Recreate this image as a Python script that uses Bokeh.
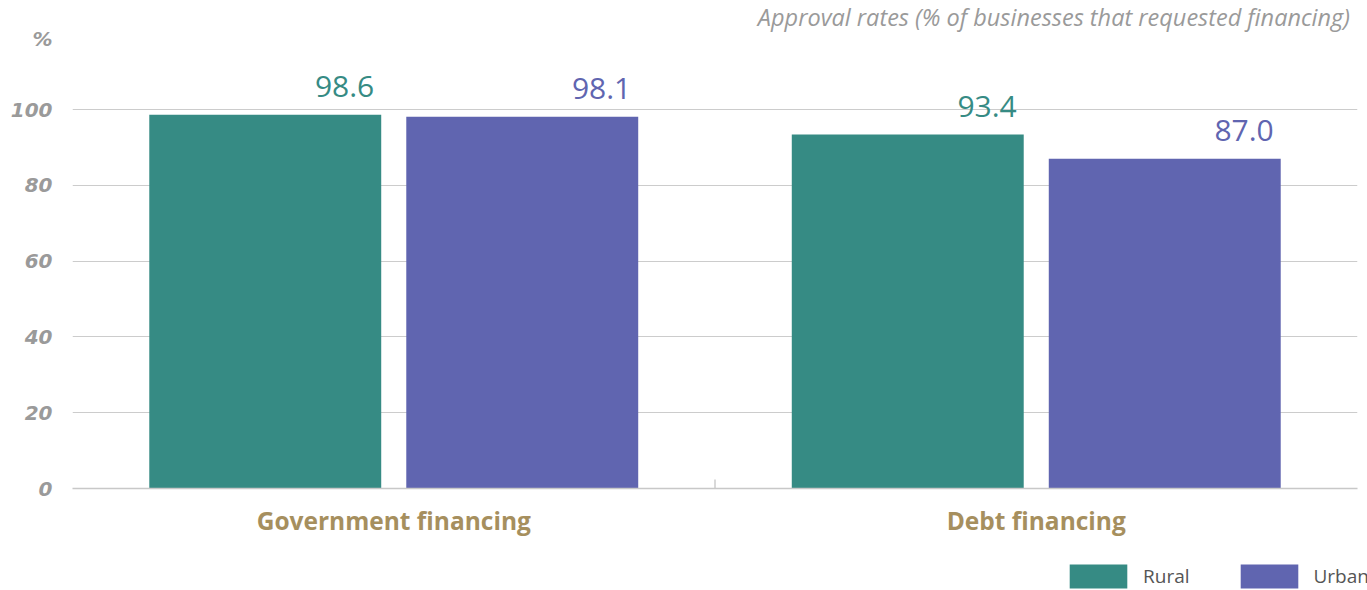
from bokeh.plotting import figure
from bokeh.layouts import column
from bokeh.models import ColumnDataSource, FactorRange, Range1d, FixedTicker, Label, Legend, LegendItem
from bokeh.transform import dodge
from bokeh.embed import file_html
from bokeh.resources import INLINE

categories = ["Government financing", "Debt financing"]
rural = [98.6, 93.4]
urban = [98.1, 87.0]
series_names = ["Rural", "Urban"]
y_ticks = [0, 20, 40, 60, 80, 100]
title_text = "Approval rates (% of businesses that requested financing)"
unit_text = "%"

RURAL_C = "#368b84"
URBAN_C = "#6065b0"

src = ColumnDataSource(dict(
    cat=categories,
    rural=rural,
    urban=urban,
    rural_lbl=["%.1f" % v for v in rural],
    urban_lbl=["%.1f" % v for v in urban],
))

Y_TOP = 128.76
UNIT_Y = 118.6

p = figure(x_range=FactorRange(*categories), y_range=Range1d(0, Y_TOP),
           width=1367, height=548, output_backend="svg", toolbar_location=None,
           min_border_left=72, min_border_right=10, min_border_top=0, min_border_bottom=60)
p.outline_line_color = None
p.background_fill_color = "white"
p.border_fill_color = "white"

bw = 0.361
off = 0.2
r1 = p.vbar(x=dodge("cat", -off, range=p.x_range), top="rural", width=bw, source=src,
            fill_color=RURAL_C, line_color=None)
r2 = p.vbar(x=dodge("cat", off, range=p.x_range), top="urban", width=bw, source=src,
            fill_color=URBAN_C, line_color=None)

p.text(x=dodge("cat", -off + bw / 2, range=p.x_range), y="rural", text="rural_lbl", source=src,
       text_align="right", text_baseline="alphabetic", x_offset=-7, y_offset=-28,
       text_font_size="30px", text_font={"value": "Open Sans"}, text_color=RURAL_C)
p.text(x=dodge("cat", off + bw / 2, range=p.x_range), y="urban", text="urban_lbl", source=src,
       text_align="right", text_baseline="alphabetic", x_offset=-7, y_offset=-28,
       text_font_size="30px", text_font={"value": "Open Sans"}, text_color=URBAN_C)

# category separator tick
sep = ColumnDataSource(dict(cat=categories[:-1], y0=[0] * (len(categories) - 1), y1=[2.4] * (len(categories) - 1)))
p.segment(x0=dodge("cat", 0.5, range=p.x_range), x1=dodge("cat", 0.5, range=p.x_range),
          y0="y0", y1="y1", source=sep, line_color="#cccccc", line_width=1.5)

# axes
p.yaxis.ticker = FixedTicker(ticks=y_ticks + [UNIT_Y])
p.yaxis.major_label_overrides = {UNIT_Y: unit_text}
p.yaxis.axis_line_color = None
p.yaxis.major_tick_line_color = None
p.yaxis.minor_tick_line_color = None
p.yaxis.major_label_standoff = 14
p.yaxis.major_label_text_font = "DejaVu Sans"
p.yaxis.major_label_text_font_style = "bold italic"
p.yaxis.major_label_text_font_size = "20px"
p.yaxis.major_label_text_color = "#9a9a9a"

p.xaxis.axis_line_color = "#c8c8c8"
p.xaxis.axis_line_width = 1.5
p.xaxis.major_tick_line_color = None
p.xaxis.minor_tick_line_color = None
p.xaxis.major_label_standoff = 9
p.xaxis.major_label_text_font = "Open Sans"
p.xaxis.major_label_text_font_style = "bold"
p.xaxis.major_label_text_font_size = "24.5px"
p.xaxis.major_label_text_color = "#a68f5e"

p.xgrid.grid_line_color = None
p.ygrid.ticker = FixedTicker(ticks=y_ticks)
p.ygrid.grid_line_color = "#cccccc"
p.ygrid.grid_line_width = 1

# title text (inside frame area, top right)
p.add_layout(Label(x=1.9883, y=124.4, text=title_text, text_align="right", text_baseline="alphabetic",
                   text_font="Open Sans", text_font_style="italic", text_font_size="23.5px",
                   text_color="#9a9a9a"))

# legend strip (separate small figure underneath, same bars kept out of view)
lf = figure(width=1367, height=42, x_range=FactorRange(*categories), y_range=Range1d(1000, 1042),
            output_backend="svg", toolbar_location=None,
            x_axis_location=None, y_axis_location=None,
            min_border=0, min_border_left=0, min_border_right=0, min_border_top=0, min_border_bottom=0)
lf.frame_align = False
lf.grid.visible = False
lf.outline_line_color = None
lr1 = lf.vbar(x=dodge("cat", -off, range=lf.x_range), top="rural", width=bw, source=src,
              fill_color=RURAL_C, line_color=None)
lr2 = lf.vbar(x=dodge("cat", off, range=lf.x_range), top="urban", width=bw, source=src,
              fill_color=URBAN_C, line_color=None)
legend = Legend(items=[LegendItem(label=series_names[0], renderers=[lr1]),
                       LegendItem(label=series_names[1], renderers=[lr2])],
                location=(1062, -1), orientation="horizontal",
                glyph_width=72, glyph_height=30, label_standoff=9, spacing=43,
                padding=0, margin=0, border_line_color=None, background_fill_alpha=0,
                label_text_font="Open Sans", label_text_font_size="19px", label_text_color="#555555")
lf.add_layout(legend, "center")

layout = column(p, lf, spacing=0)
open("out.html", "w").write(file_html(layout, INLINE))
